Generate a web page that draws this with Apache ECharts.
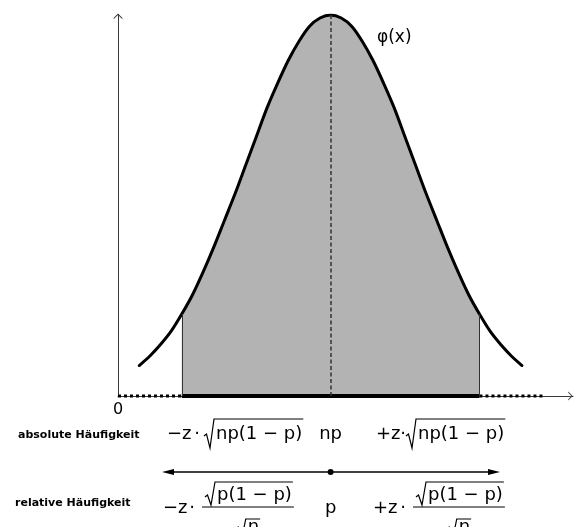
<!DOCTYPE html>
<html>
<head>
<meta charset="utf-8">
<script src="https://cdn.jsdelivr.net/npm/echarts@6/dist/echarts.min.js"></script>
<style>
  html, body { margin: 0; padding: 0; background: #fff; }
  #main { width: 582px; height: 527px; }
</style>
</head>
<body>
<div id="main"></div>
<script>
// x in Standardabweichungen, y-Achse bei 0, Mittelwert np bei 2.5
const xs = [0.25, 0.375, 0.5, 0.625, 0.75, 0.875, 1, 1.125, 1.25, 1.375, 1.5, 1.625, 1.75, 1.875, 2, 2.125, 2.25, 2.375,
  2.5, 2.625, 2.75, 2.875, 3, 3.125, 3.25, 3.375, 3.5, 3.625, 3.75, 3.875, 4, 4.125, 4.25, 4.375, 4.5, 4.625, 4.75]
const phi = [0.08, 0.105, 0.135, 0.17, 0.215, 0.265, 0.325, 0.39, 0.46, 0.53, 0.605, 0.68, 0.755, 0.82, 0.88, 0.93, 0.97, 0.992,
  1, 0.992, 0.97, 0.93, 0.88, 0.82, 0.755, 0.68, 0.605, 0.53, 0.46, 0.39, 0.325, 0.265, 0.215, 0.17, 0.135, 0.105, 0.08]
const bounds = [0.75, 4.25] /* -z ... +z */
const mean = 2.5 /* np */
const leftTail = [0, 0.75]
const rightTail = [4.25, 5]
const xTickLabels = ['0']

const curve = xs.map((x, i) => [x, phi[i]])
const shaded = curve.filter(d => d[0] >= bounds[0] && d[0] <= bounds[1])
const boundTop = bounds.map(b => phi[xs.indexOf(b)])

const arrowPath = 'path://M0,9 L9,0 L18,9 L15.5,9 L9,2.5 L2.5,9 Z'
const axisColor = '#3a3a3a'

var myChart = echarts.init(document.getElementById('main'))
var option = {
  animation: false,
  grid: { left: 118, right: 9, top: 15, bottom: 131 },
  xAxis: {
    type: 'value', min: 0, max: 5.35, interval: 5,
    axisLine: { show: true, lineStyle: { color: axisColor, width: 1 }, symbol: ['none', arrowPath], symbolSize: [9, 5], symbolOffset: [0, -2.5] },
    axisTick: { show: false },
    splitLine: { show: false },
    axisLabel: {
      formatter: v => v === 0 ? xTickLabels[0] : '',
      fontSize: 16, color: '#000', margin: 6, fontFamily: 'DejaVu Sans'
    }
  },
  yAxis: {
    type: 'value', min: 0, max: 1,
    axisLine: { show: true, lineStyle: { color: axisColor, width: 1 }, symbol: ['none', arrowPath], symbolSize: [11, 5], symbolOffset: [0, -1] },
    axisTick: { show: false },
    splitLine: { show: false },
    axisLabel: { show: false }
  },
  series: [
    {/* grauer Bereich */
      type: 'line', data: shaded, smooth: 0.3, symbol: 'none', z: 1,
      lineStyle: { width: 0 },
      areaStyle: { color: '#b3b3b3', opacity: 1 },
      markLine: {
        silent: true, symbol: ['none', 'none'], label: { show: false },
        data: [
          [{ coord: [bounds[0], 0], lineStyle: { type: 'solid', color: '#333', width: 1 } }, { coord: [bounds[0], boundTop[0]] }],
          [{ coord: [bounds[1], 0], lineStyle: { type: 'solid', color: '#333', width: 1 } }, { coord: [bounds[1], boundTop[1]] }],
          [{ coord: [mean, 0], lineStyle: { type: [4, 2.5], color: '#333', width: 1.5 } }, { coord: [mean, phi[xs.indexOf(mean)]] }]
        ]
      }
    },
    {/* Dichtefunktion */
      type: 'line', data: curve, smooth: 0.3, symbol: 'none', z: 3,
      lineStyle: { color: '#000', width: 3, cap: 'round' }
    },
    {
      type: 'line', data: [[bounds[0], 0], [bounds[1], 0]], symbol: 'none', clip: false, z: 4,
      lineStyle: { color: '#000', width: 4 }
    },
    {
      type: 'line', data: leftTail.map(x => [x, 0]), symbol: 'none', clip: false, z: 4,
      lineStyle: { color: '#000', width: 3, type: [3, 3] }
    },
    {
      type: 'line', data: rightTail.map(x => [x, 0]), symbol: 'none', clip: false, z: 4,
      lineStyle: { color: '#000', width: 3, type: [3, 3] }
    }
  ]
}
myChart.setOption(option)

/* Beschriftung unter der Achse */
const mathFont = '18px "DejaVu Sans"'
const ctx = document.createElement('canvas').getContext('2d')
const measure = (s, font) => { ctx.font = font; return ctx.measureText(s).width }

function txt(x, y, s, extra) {
  const st = Object.assign({ text: s, font: mathFont, fill: '#000', textAlign: 'left', textVerticalAlign: 'middle' }, extra || {})
  st.align = st.textAlign
  st.verticalAlign = st.textVerticalAlign
  return { type: 'text', x: x, y: y, silent: true, style: st }
}
function line(pts, w) {
  return { type: 'polyline', silent: true, shape: { points: pts }, style: { stroke: '#000', lineWidth: w || 1.2, fill: 'none' } }
}
function sqrtTerm(x, cy, s, top, bottom) {
  const w = measure(s, mathFont)
  const end = x + 12 + w + 1
  return {
    width: end - x,
    els: [
      line([[x, cy + 2], [x + 2.5, cy], [x + 6, cy + bottom], [x + 10, cy - top], [end, cy - top]]),
      txt(x + 12, cy, s)
    ]
  }
}
function fraction(x, yBar, num, den) {
  const n = sqrtTerm(x + 3, yBar - 12, num, 13, 10)
  const barW = n.width + 4
  const dw = 12 + measure(den, mathFont) + 1
  const d = sqrtTerm(x + (barW - dw) / 2, yBar + 20, den, 8, 12)
  return n.els.concat(d.els, [line([[x, yBar], [x + barW, yBar]], 1.2)])
}

const meanPx = myChart.convertToPixel({ xAxisIndex: 0 }, mean)
const labelFont = 'bold 11px "DejaVu Sans"'
let g = []
g.push(txt(18, 435, 'absolute Häufigkeit', { font: labelFont }))
g.push(txt(15, 503, 'relative Häufigkeit', { font: labelFont }))
g.push(txt(377, 38, 'φ(x)', { font: '17px "DejaVu Sans"' }))

// absolute Häufigkeit
g.push(txt(167, 434, '−z'), txt(197, 434, '·', { textAlign: 'center' }))
g = g.concat(sqrtTerm(204, 434, 'np(1 − p)', 15, 14).els)
g.push(txt(meanPx, 434, 'np', { textAlign: 'center' }))
g.push(txt(376, 434, '+z'), txt(403, 434, '·', { textAlign: 'center' }))
g = g.concat(sqrtTerm(406, 434, 'np(1 − p)', 15, 14).els)

// Pfeil mit Punkt
g.push(line([[170, 472], [492, 472]], 1.3))
g.push({ type: 'polygon', silent: true, shape: { points: [[162, 472], [174, 469], [174, 475]] }, style: { fill: '#000' } })
g.push({ type: 'polygon', silent: true, shape: { points: [[500, 472], [488, 469], [488, 475]] }, style: { fill: '#000' } })
g.push({ type: 'circle', silent: true, shape: { cx: meanPx, cy: 472, r: 3 }, style: { fill: '#000' } })

// relative Häufigkeit
g.push(txt(163, 508, '−z'), txt(192, 508, '·', { textAlign: 'center' }))
g = g.concat(fraction(202, 507, 'p(1 − p)', 'n'))
g.push(txt(meanPx, 508, 'p', { textAlign: 'center' }))
g.push(txt(373, 508, '+z'), txt(403, 508, '·', { textAlign: 'center' }))
g = g.concat(fraction(413, 507, 'p(1 − p)', 'n'))

myChart.setOption({ graphic: g })
</script>
</body>
</html>
